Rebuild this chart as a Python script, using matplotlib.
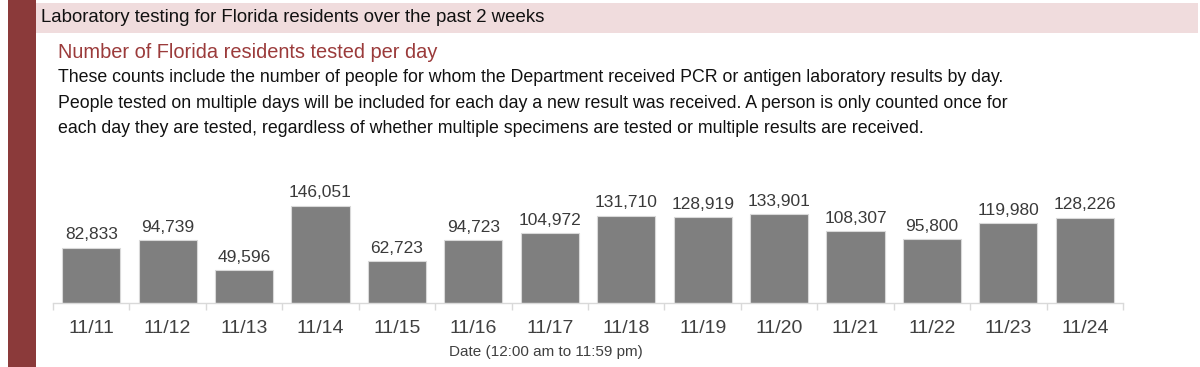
import matplotlib
matplotlib.use("Agg")
import matplotlib.pyplot as plt
from matplotlib import font_manager
from matplotlib.patches import Rectangle

dates = ["11/11", "11/12", "11/13", "11/14", "11/15", "11/16", "11/17",
         "11/18", "11/19", "11/20", "11/21", "11/22", "11/23", "11/24"]
tested = [82833, 94739, 49596, 146051, 62723, 94723, 104972,
          131710, 128919, 133901, 108307, 95800, 119980, 128226]

header = "Laboratory testing for Florida residents over the past 2 weeks"
subtitle = "Number of Florida residents tested per day"
body = [
    "These counts include the number of people for whom the Department received PCR or antigen laboratory results by day.",
    "People tested on multiple days will be included for each day a new result was received. A person is only counted once for",
    "each day they are tested, regardless of whether multiple specimens are tested or multiple results are received.",
]
xlabel = "Date (12:00 am to 11:59 pm)"

installed = {f.name for f in font_manager.fontManager.ttflist}
narrow = "Liberation Sans Narrow" if "Liberation Sans Narrow" in installed else "Liberation Sans"
plt.rcParams["font.family"] = [narrow, "DejaVu Sans"]

W, H = 1200, 367
fig = plt.figure(figsize=(W / 100, H / 100), dpi=100)

def fx(px):
    return px / W

def fy(py):
    return 1 - py / H

# left maroon strip and pink header band
fig.add_artist(Rectangle((fx(8), 0), fx(28), 1, transform=fig.transFigure,
                         color="#8B3A3A", lw=0))
fig.add_artist(Rectangle((fx(36), fy(33)), fx(1162), (30) / H, transform=fig.transFigure,
                         color="#F0DCDD", lw=0))

txt_font = ["Liberation Sans", "DejaVu Sans"]
fig.text(fx(41), fy(18), header, fontsize=13.4, va="center", ha="left",
         family=txt_font, color="#111111")
fig.text(fx(58), fy(53), subtitle, fontsize=14.4, va="center", ha="left",
         family=txt_font, color="#9B3B3B")
for i, line in enumerate(body):
    fig.text(fx(58), fy(78 + 25 * i), line, fontsize=12.8, va="center", ha="left",
             family=txt_font, color="#111111")

# chart axes: baseline y=303, 146,051 -> 97 px
ymax = 200000
ax_h = ymax * 97 / 146051
ax = fig.add_axes([fx(53), fy(303), fx(1123 - 53), ax_h / H])
x = range(len(dates))
ax.bar(x, tested, width=0.76, color="#7F7F7F", edgecolor="#D9D9D9", linewidth=0.8)
ax.set_xlim(-0.5, len(dates) - 0.5)
ax.set_ylim(0, ymax)

for xi, v in zip(x, tested):
    ax.annotate(f"{v:,}", (xi, v), xytext=(0, 4), textcoords="offset points",
                ha="center", va="bottom", fontsize=12.5, color="#3A3A3A")

ax.set_xticks(list(x))
ax.set_xticklabels(dates, fontsize=14, color="#404040")
ax.set_xticks([i - 0.5 for i in range(len(dates) + 1)], minor=True)
ax.tick_params(axis="x", which="major", length=0, pad=12)
ax.tick_params(axis="x", which="minor", length=5, color="#D9D9D9", width=1)
ax.set_yticks([])
for s in ["top", "right", "left"]:
    ax.spines[s].set_visible(False)
ax.spines["bottom"].set_color("#D9D9D9")
ax.spines["bottom"].set_linewidth(1)

fig.text(fx(546), fy(352), xlabel, fontsize=11, ha="center", va="center", color="#404040")

fig.savefig("out.png", dpi=100)
